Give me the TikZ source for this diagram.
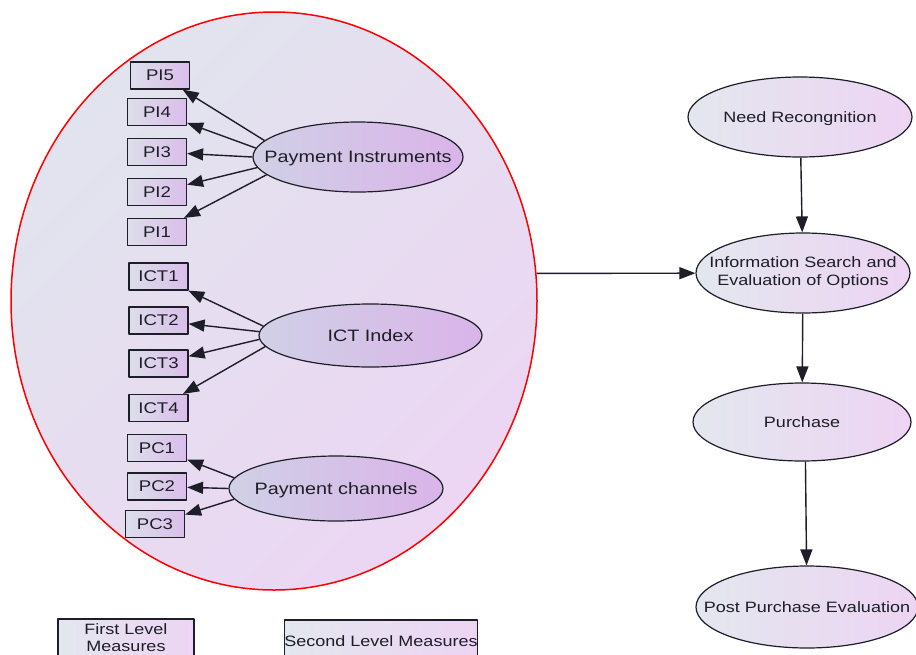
\documentclass[tikz,border=0pt]{standalone}
\usepackage{fontspec}
\setmainfont{Liberation Sans}[FakeStretch=1.2]
\usetikzlibrary{arrows.meta,shapes.geometric}

\definecolor{inkc}{HTML}{1E1E28}
\definecolor{bigl}{HTML}{E1E4EE}
\definecolor{bigr}{HTML}{ECD6F3}
\definecolor{facl}{HTML}{D0D0E6}
\definecolor{facr}{HTML}{DAB4E9}
\definecolor{boxl}{HTML}{DCDEEA}
\definecolor{boxr}{HTML}{DABEEA}
\definecolor{stgl}{HTML}{E3E7EE}
\definecolor{stgr}{HTML}{EDD4F3}
\newcommand{\ctext}[1]{\makebox[0pt]{#1}}

\begin{document}
\begin{tikzpicture}[x=1pt, y=-1pt, >={Triangle[length=16pt,width=12pt]}, line join=round,
    measure/.style={rectangle, draw=inkc, line width=1.2pt, left color=boxl, right color=boxr,
      minimum width=59pt, minimum height=27pt, inner sep=0pt, text depth=0pt, text=inkc, font=\fontsize{15.5}{17}\selectfont},
    factor/.style={ellipse, draw=inkc, line width=1.2pt, left color=facl, right color=facr,
      inner sep=0pt, text depth=0pt, text=inkc, font=\fontsize{16.5}{18}\selectfont},
    stage/.style={ellipse, draw=inkc, line width=1.2pt, left color=stgl, right color=stgr,
      inner sep=0pt, text depth=0pt, text=inkc, font=\fontsize{15}{17.5}\selectfont},
    legendbox/.style={rectangle, draw=inkc, line width=1.2pt, left color=stgl, right color=stgr,
      inner sep=0pt, align=center, text=inkc, font=\fontsize{15}{17}\selectfont},
    load/.style={->, draw=inkc, line width=1.4pt}]
  \clip (0,0) rectangle (916,654);
  \fill[white] (0,0) rectangle (916,654);

  \node[ellipse, draw=red, line width=1.5pt, top color=bigl, bottom color=bigr, shading angle=45,
    minimum width=526pt, minimum height=578pt, inner sep=0pt] (big) at (274,301) {};

  \node[factor, minimum width=210pt, minimum height=70pt] (pi) at (358,157) {\ctext{Payment Instruments}};
  \node[measure] (pi5) at (160,75.5) {PI5};
  \node[measure] (pi4) at (157,112) {PI4};
  \node[measure] (pi3) at (157,152) {PI3};
  \node[measure] (pi2) at (157,192) {PI2};
  \node[measure] (pi1) at (157,232) {PI1};
  \draw[load] (pi.170) -- (pi5);
  \draw[load] (pi.175) -- (pi4);
  \draw[load] (pi.180) -- (pi3);
  \draw[load] (pi.186) -- (pi2);
  \draw[load] (pi.191) -- (pi1);

  \node[factor, minimum width=223pt, minimum height=63pt] (ict) at (370.5,335.5) {\ctext{ICT Index}};
  \node[measure] (ict1) at (158.5,276.5) {ICT1};
  \node[measure] (ict2) at (158.5,320.5) {ICT2};
  \node[measure] (ict3) at (158.5,363.5) {ICT3};
  \node[measure] (ict4) at (158.5,408) {ICT4};
  \draw[load] (ict.175) -- (ict1);
  \draw[load] (ict.178) -- (ict2);
  \draw[load] (ict.182) -- (ict3);
  \draw[load] (ict.186) -- (ict4);

  \node[factor, minimum width=214pt, minimum height=65pt] (pc) at (336,488.5) {\ctext{Payment channels}};
  \node[measure] (pc1) at (157,448) {PC1};
  \node[measure] (pc2) at (157,486.5) {PC2};
  \node[measure] (pc3) at (155,524) {PC3};
  \draw[load] (pc.174) -- (pc1);
  \draw[load] (pc.180) -- (pc2);
  \draw[load] (pc.186) -- (pc3);

  \node[stage, minimum width=224pt, minimum height=80pt] (need) at (800,117) {\ctext{Need Recongnition}};
  \node[stage, text depth={}, minimum width=214pt, minimum height=80pt] (info) at (803,273)
    {\ctext{\begin{tabular}{@{}c@{}}Information Search and\\Evaluation of Options\end{tabular}}};
  \node[stage, minimum width=218pt, minimum height=78pt] (buy) at (802,422) {\ctext{Purchase}};
  \node[stage, minimum width=222pt, minimum height=82pt] (post) at (807,607) {\ctext{Post Purchase Evaluation}};
  \draw[load] (need) -- (info);
  \draw[load] (info) -- (buy);
  \draw[load] (buy.-85) -- (post);
  \draw[load] (big.6) -- (info);

  \node[legendbox, minimum width=136pt, minimum height=38pt] (firstlvl) at (126,638) {First Level\\Measures};
  \node[legendbox, minimum width=192pt, minimum height=42pt] (secondlvl) at (381,641) {Second Level Measures};
\end{tikzpicture}
\end{document}
